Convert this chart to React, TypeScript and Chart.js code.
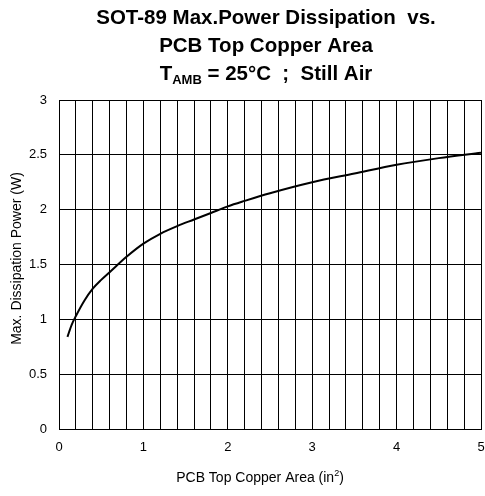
import { useEffect, useRef } from "react";
import { Chart, registerables } from "chart.js";

Chart.register(...registerables);

// ---- data ----
const areaIn2 = [0.1, 0.15, 0.2, 0.3, 0.4, 0.5, 0.6, 0.8, 1.0, 1.2, 1.4, 1.6, 1.8, 2.0, 2.2, 2.5, 3.0, 3.5, 4.0, 4.5, 5.0];
const powerW = [0.84, 0.95, 1.03, 1.17, 1.28, 1.36, 1.43, 1.57, 1.69, 1.78, 1.85, 1.91, 1.97, 2.03, 2.08, 2.15, 2.25, 2.33, 2.41, 2.47, 2.52];

const xMin = 0;
const xMax = 5;
const xGridStep = 0.2;
const yMin = 0;
const yMax = 3;
const yStep = 0.5;

const titleLine1 = "SOT-89 Max.Power Dissipation  vs.";
const titleLine2 = "PCB Top Copper Area";
const titleLine3Main = "T";
const titleLine3Sub = "AMB";
const titleLine3Rest = " = 25°C  ;  Still Air";
const yAxisTitle = "Max. Dissipation Power (W)";
const xAxisTitleMain = "PCB Top Copper Area (in";
const xAxisTitleSup = "2";
const xAxisTitleEnd = ")";

const FONT = "'Liberation Sans', Arial, Helvetica, sans-serif";

const textPlugin = {
  id: "customText",
  afterDraw(chart: any) {
    const ctx: CanvasRenderingContext2D = chart.ctx;
    const area = chart.chartArea;
    ctx.save();
    ctx.fillStyle = "#000";
    ctx.textBaseline = "alphabetic";

    // main title
    const cx = 266;
    ctx.font = `bold 20.5px ${FONT}`;
    ctx.textAlign = "center";
    ctx.fillText(titleLine1, cx, 24);
    ctx.fillText(titleLine2, cx, 52);

    // third line with subscript
    ctx.textAlign = "left";
    ctx.font = `bold 20.5px ${FONT}`;
    const wT = ctx.measureText(titleLine3Main).width;
    const wRest = ctx.measureText(titleLine3Rest).width;
    ctx.font = `bold 13px ${FONT}`;
    const wSub = ctx.measureText(titleLine3Sub).width;
    const total = wT + wSub + wRest;
    let x = cx - total / 2;
    ctx.font = `bold 20.5px ${FONT}`;
    ctx.fillText(titleLine3Main, x, 80);
    x += wT;
    ctx.font = `bold 13px ${FONT}`;
    ctx.fillText(titleLine3Sub, x, 84);
    x += wSub;
    ctx.font = `bold 20.5px ${FONT}`;
    ctx.fillText(titleLine3Rest, x, 80);

    // x axis title with superscript
    ctx.font = `14px ${FONT}`;
    const wa = ctx.measureText(xAxisTitleMain).width;
    const wc = ctx.measureText(xAxisTitleEnd).width;
    ctx.font = `9px ${FONT}`;
    const wb = ctx.measureText(xAxisTitleSup).width;
    const xt = (area.left + area.right) / 2 - 10;
    let tx = xt - (wa + wb + wc) / 2;
    const ty = 482;
    ctx.font = `14px ${FONT}`;
    ctx.fillText(xAxisTitleMain, tx, ty);
    tx += wa;
    ctx.font = `9px ${FONT}`;
    ctx.fillText(xAxisTitleSup, tx, ty - 6);
    tx += wb;
    ctx.font = `14px ${FONT}`;
    ctx.fillText(xAxisTitleEnd, tx, ty);

    // y axis title
    ctx.translate(17, (area.top + area.bottom) / 2 - 6);
    ctx.rotate(-Math.PI / 2);
    ctx.textAlign = "center";
    ctx.textBaseline = "middle";
    ctx.font = `14px ${FONT}`;
    ctx.fillText(yAxisTitle, 0, 0);
    ctx.restore();
  },
};

export default function App() {
  const ref = useRef<HTMLCanvasElement | null>(null);

  useEffect(() => {
    if (!ref.current) return;
    const points = areaIn2.map((a, i) => ({ x: a, y: powerW[i] }));
    const chart = new Chart(ref.current, {
      type: "line",
      data: {
        datasets: [
          {
            data: points,
            borderColor: "#000",
            borderWidth: 2,
            pointRadius: 0,
            fill: false,
            cubicInterpolationMode: "monotone",
          },
        ],
      },
      options: {
        responsive: false,
        animation: false,
        layout: { padding: { top: 100, right: 4, left: 0, bottom: 0 } },
        plugins: {
          legend: { display: false },
          title: { display: false },
          tooltip: { enabled: false },
        },
        scales: {
          x: {
            type: "linear",
            min: xMin,
            max: xMax,
            afterFit: (s: any) => {
              s.height = 67;
              s.paddingLeft = 0;
              s.paddingRight = 0;
            },
            grid: { color: "#000", lineWidth: 1, drawTicks: false },
            border: { color: "#000", width: 1 },
            ticks: {
              stepSize: xGridStep,
              autoSkip: false,
              maxRotation: 0,
              padding: 11,
              color: "#000",
              font: { family: FONT, size: 13 },
              callback: (v: any) => {
                const n = Number(v);
                return Math.abs(n - Math.round(n)) < 1e-6 ? String(Math.round(n)) : "";
              },
            },
          },
          y: {
            type: "linear",
            min: yMin,
            max: yMax,
            afterFit: (s: any) => {
              s.width = 59;
              s.paddingTop = 0;
              s.paddingBottom = 0;
            },
            grid: { color: "#000", lineWidth: 1, drawTicks: false },
            border: { color: "#000", width: 1 },
            ticks: {
              stepSize: yStep,
              padding: 12,
              color: "#000",
              font: { family: FONT, size: 13 },
              callback: (v: any) => String(Math.round(Number(v) * 10) / 10),
            },
          },
        },
      },
      plugins: [textPlugin],
    });
    return () => chart.destroy();
  }, []);

  return (
    <div style={{ position: "absolute", left: 0, top: 0, width: 485, height: 496, background: "#fff" }}>
      <canvas ref={ref} width={485} height={496} style={{ display: "block" }} />
    </div>
  );
}
